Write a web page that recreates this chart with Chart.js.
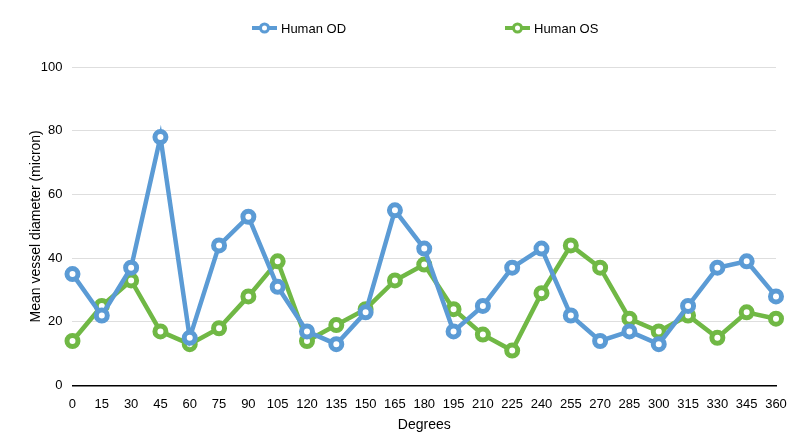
<!DOCTYPE html>
<html lang="en">
<head>
    <meta charset="UTF-8">
    <title>Mean vessel diameter</title>
    <script src="https://cdn.jsdelivr.net/npm/chart.js"></script>
    <style>
        body {
            margin: 0;
            background: #fff;
        }
        #wrap {
            width: 800px;
            height: 444px;
        }
    </style>
</head>
<body>
    <div id="wrap"><canvas id="chart"></canvas></div>

    <script>
        // Data
        const degrees = ['0', '15', '30', '45', '60', '75', '90', '105', '120', '135', '150', '165',
            '180', '195', '210', '225', '240', '255', '270', '285', '300', '315', '330', '345', '360'];
        const humanOD = [35, 22, 37, 78, 15, 44, 53, 31, 17, 13, 23, 55, 43, 17, 25, 37, 43, 22, 14, 17, 13, 25, 37, 39, 28];
        const humanOS = [14, 25, 33, 17, 13, 18, 28, 39, 14, 19, 24, 33, 38, 24, 16, 11, 29, 44, 37, 21, 17, 22, 15, 23, 21];

        const blue = '#5b9bd5';
        const green = '#70b845';
        const font = '"Liberation Sans", Arial, Helvetica, sans-serif';

        function series(label, data, color) {
            return {
                label: label,
                data: data,
                borderColor: color,
                backgroundColor: color,
                borderWidth: 4.5,
                pointRadius: 5.5,
                pointHoverRadius: 5.5,
                pointBorderWidth: 5,
                pointBackgroundColor: '#fff',
                pointBorderColor: color,
                tension: 0,
                fill: false
            };
        }

        // legend drawn by hand: thick line with hollow marker, spaced like the original
        const legendPlugin = {
            id: 'lineLegend',
            afterDraw(chart) {
                const ctx = chart.ctx;
                const spots = [252, 505];
                const y = 28;
                ctx.save();
                chart.data.datasets.forEach(function (ds, i) {
                    const x = spots[i];
                    ctx.strokeStyle = ds.borderColor;
                    ctx.lineWidth = 4;
                    ctx.beginPath();
                    ctx.moveTo(x, y);
                    ctx.lineTo(x + 25, y);
                    ctx.stroke();
                    ctx.fillStyle = '#fff';
                    ctx.lineWidth = 3;
                    ctx.beginPath();
                    ctx.arc(x + 12.5, y, 4, 0, Math.PI * 2);
                    ctx.fill();
                    ctx.stroke();
                    ctx.fillStyle = '#000';
                    ctx.font = '13px ' + font;
                    ctx.textBaseline = 'middle';
                    ctx.fillText(ds.label, x + 29, y + 1);
                });
                ctx.restore();
            }
        };

        new Chart(document.getElementById('chart'), {
            type: 'line',
            data: {
                labels: degrees,
                datasets: [
                    series('Human OD', humanOD, blue),
                    series('Human OS', humanOS, green)
                ]
            },
            plugins: [legendPlugin],
            options: {
                responsive: true,
                maintainAspectRatio: false,
                animation: false,
                layout: {
                    padding: { left: 24, right: 24, top: 67, bottom: 6 }
                },
                plugins: {
                    tooltip: { enabled: false },
                    legend: { display: false }
                },
                scales: {
                    x: {
                        offset: false,
                        grid: { display: false },
                        border: { display: true, color: '#000', width: 1.5 },
                        ticks: {
                            color: '#000',
                            font: { family: font, size: 13 },
                            maxRotation: 0,
                            autoSkip: false
                        },
                        title: {
                            display: true,
                            text: 'Degrees',
                            color: '#000',
                            font: { family: font, size: 14 },
                            padding: { top: 2 }
                        }
                    },
                    y: {
                        min: 0,
                        max: 100,
                        ticks: {
                            stepSize: 20,
                            color: '#000',
                            font: { family: font, size: 13 },
                            padding: 10
                        },
                        grid: { color: '#dedede', lineWidth: 1, drawTicks: false },
                        border: { display: false },
                        title: {
                            display: true,
                            text: 'Mean vessel diameter (micron)',
                            color: '#000',
                            font: { family: font, size: 14 },
                            padding: { top: 4, bottom: -14 }
                        }
                    }
                }
            }
        });
    </script>
</body>
</html>
